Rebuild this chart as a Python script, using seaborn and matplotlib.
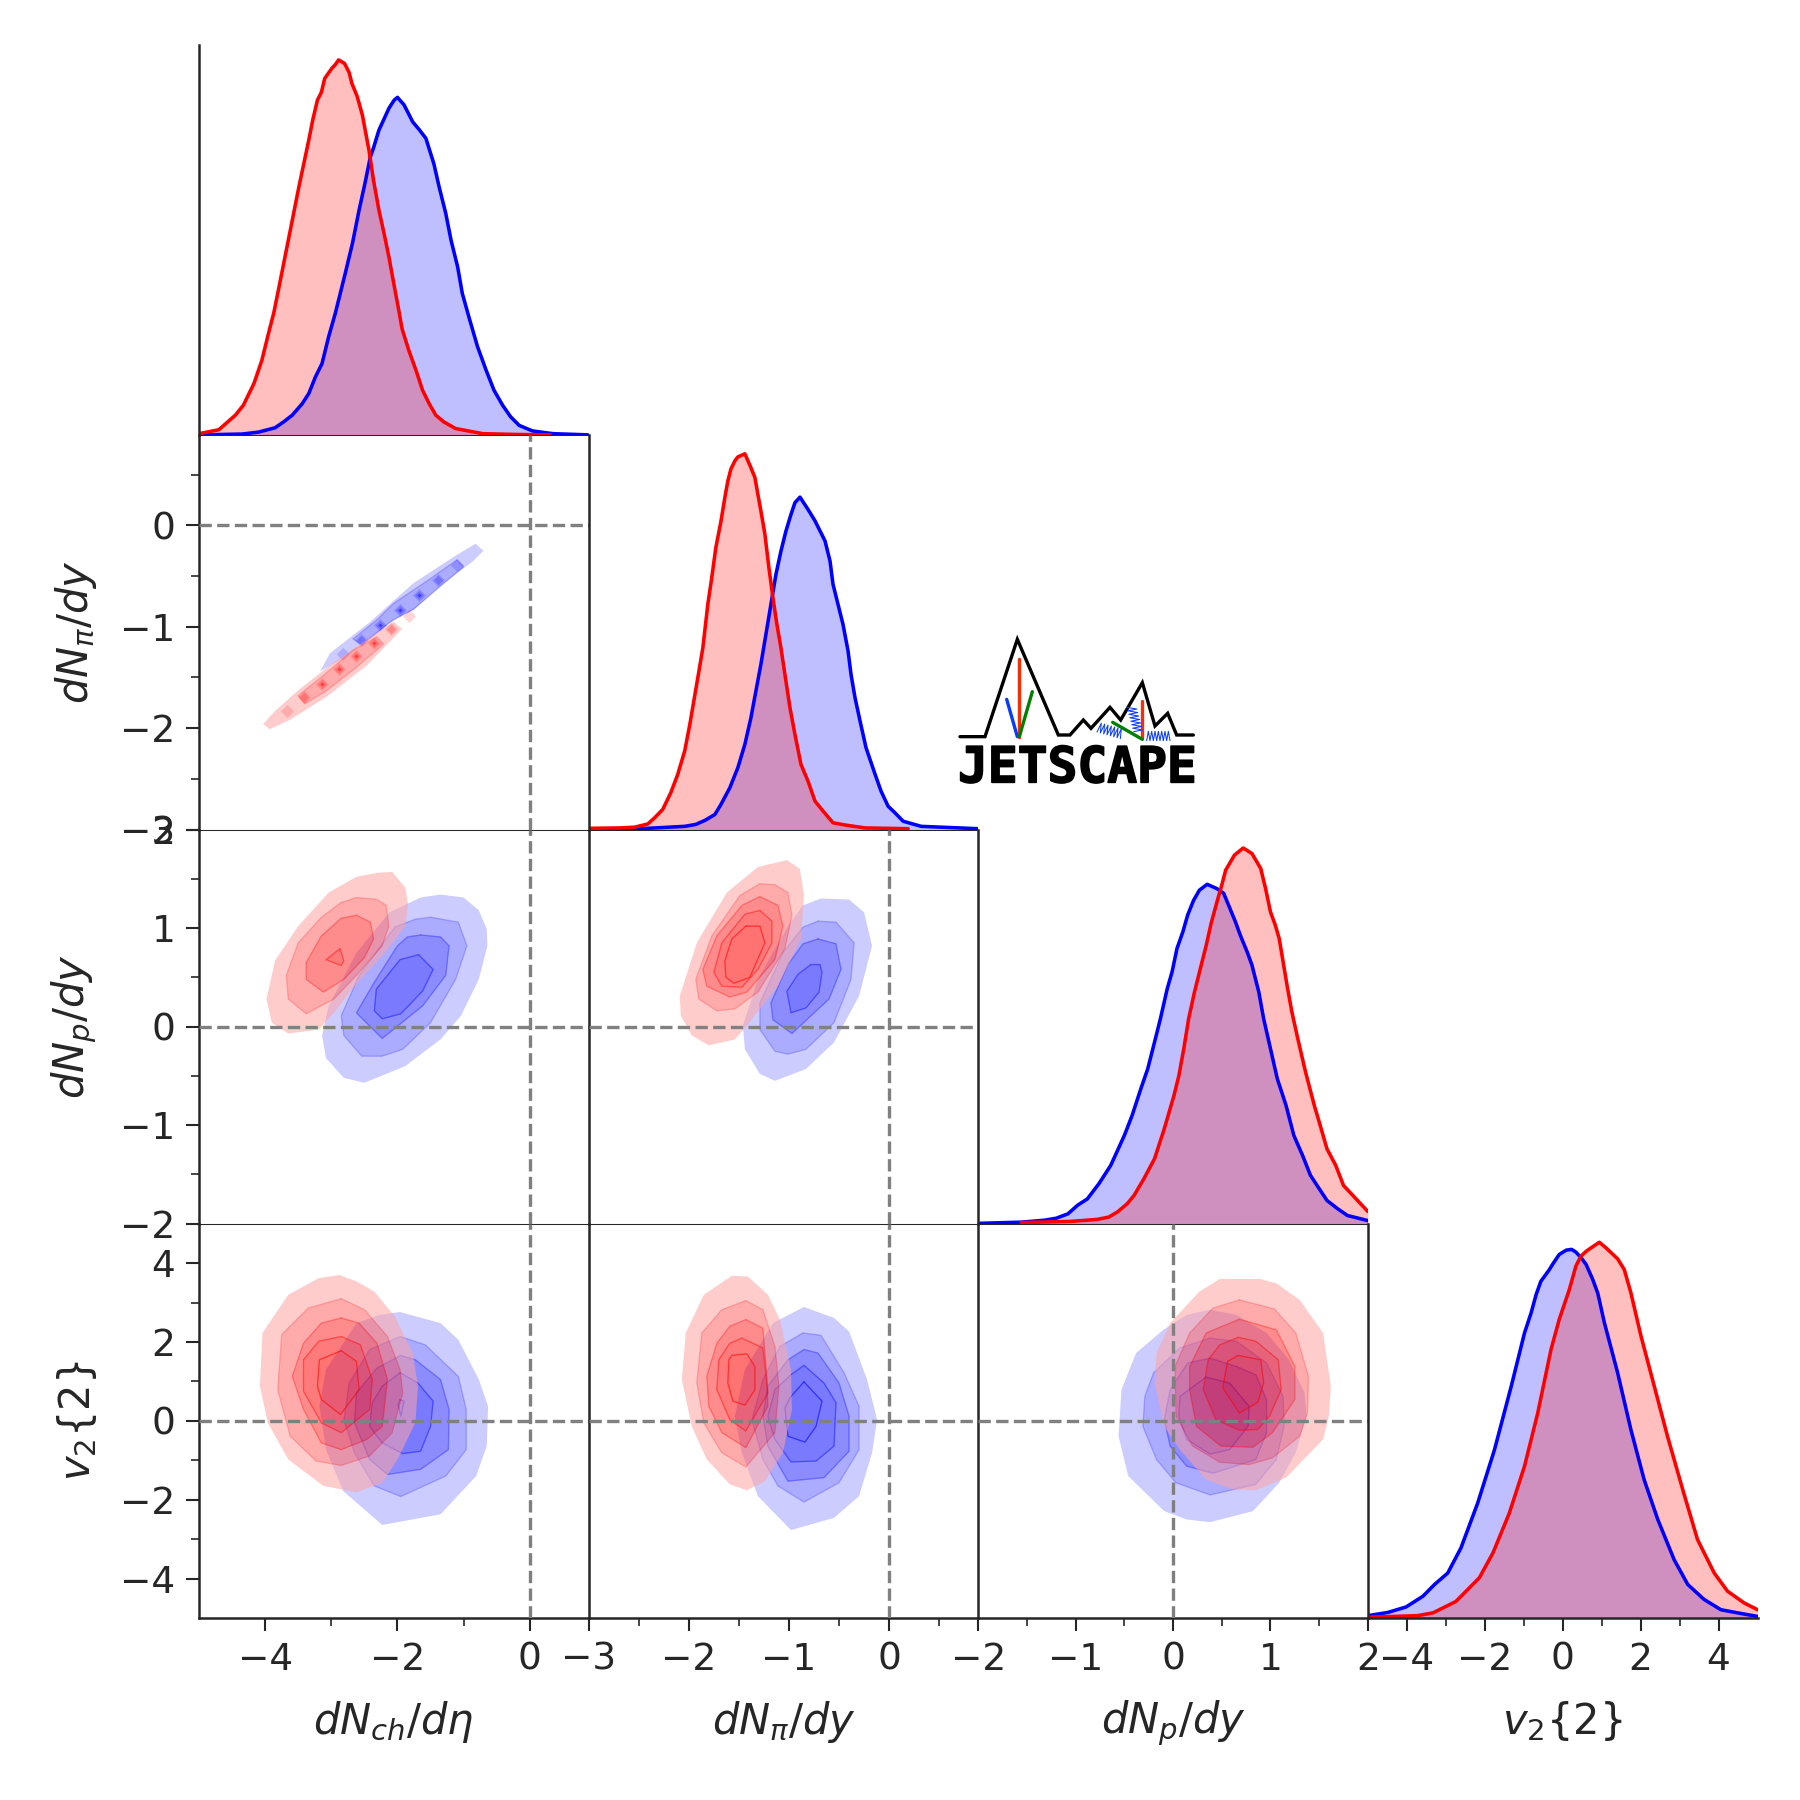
import numpy as np
import pandas as pd
import matplotlib
matplotlib.use('Agg')
import matplotlib.pyplot as plt
import matplotlib.patheffects as pe
from matplotlib.patches import PathPatch
from matplotlib.path import Path
import seaborn as sns

# labels, ranges and ticks for the four observables
labels = [r'$dN_{ch}/d\eta$', r'$dN_{\pi}/dy$', r'$dN_{p}/dy$', r'$v_{2}\{2\}$']
limits = [(-5, 0.89), (-3, 0.89), (-2, 2), (-5, 5)]
major_ticks = [[-4, -2, 0], [-3, -2, -1, 0], [-2, -1, 0, 1, 2], [-4, -2, 0, 2, 4]]
minor_ticks = [[-3, -1], [-2.5, -1.5, -0.5, 0.5], [-1.5, -0.5, 0.5, 1.5], [-3, -1, 1, 3]]

# 1D marginals (height as a fraction of the panel)
ch_red_x = [-5, -4.70, -4.45, -4.33, -4.17, -4.05, -3.95, -3.87, -3.80, -3.64, -3.49, -3.34, -3.28, -3.21, -3.15, -3.10, -2.99, -2.94, -2.89, -2.80, -2.73, -2.69, -2.61, -2.53, -2.43, -2.36, -2.28, -2.20, -2.13, -2.05, -1.98, -1.93, -1.83, -1.72, -1.62, -1.52, -1.42, -1.30, -1.12, -0.71, -0.21, 0.30]
ch_red_y = [0.004, 0.014, 0.051, 0.076, 0.131, 0.19, 0.258, 0.31, 0.368, 0.503, 0.63, 0.749, 0.80, 0.85, 0.87, 0.905, 0.931, 0.94, 0.952, 0.943, 0.92, 0.893, 0.86, 0.812, 0.723, 0.645, 0.571, 0.51, 0.453, 0.38, 0.317, 0.27, 0.216, 0.165, 0.114, 0.08, 0.051, 0.034, 0.017, 0.004, 0.002, 0.001]
ch_blue_x = [-5, -4.35, -4.10, -3.85, -3.72, -3.59, -3.44, -3.34, -3.24, -3.14, -3.04, -2.94, -2.79, -2.68, -2.58, -2.49, -2.41, -2.36, -2.28, -2.13, -2.05, -2.00, -1.90, -1.77, -1.67, -1.57, -1.45, -1.37, -1.27, -1.19, -1.09, -1.02, -0.92, -0.79, -0.66, -0.54, -0.41, -0.29, -0.16, 0.04, 0.35, 0.88]
ch_blue_y = [0.001, 0.003, 0.008, 0.019, 0.034, 0.051, 0.08, 0.106, 0.148, 0.182, 0.25, 0.309, 0.41, 0.487, 0.571, 0.64, 0.706, 0.73, 0.774, 0.829, 0.85, 0.857, 0.838, 0.795, 0.775, 0.753, 0.689, 0.63, 0.563, 0.495, 0.427, 0.36, 0.30, 0.225, 0.165, 0.114, 0.076, 0.047, 0.025, 0.011, 0.004, 0.001]

pi_red_x = [-3, -2.68, -2.54, -2.41, -2.34, -2.26, -2.18, -2.11, -2.04, -1.99, -1.91, -1.86, -1.81, -1.77, -1.73, -1.68, -1.64, -1.61, -1.58, -1.54, -1.51, -1.44, -1.38, -1.34, -1.31, -1.28, -1.24, -1.20, -1.16, -1.12, -1.08, -1.04, -0.99, -0.94, -0.88, -0.81, -0.74, -0.66, -0.56, -0.43, -0.24, 0.19]
pi_red_y = [0.003, 0.004, 0.006, 0.014, 0.03, 0.051, 0.093, 0.14, 0.2, 0.266, 0.385, 0.46, 0.571, 0.64, 0.715, 0.78, 0.842, 0.884, 0.914, 0.935, 0.945, 0.953, 0.918, 0.893, 0.85, 0.808, 0.749, 0.664, 0.588, 0.52, 0.461, 0.393, 0.309, 0.241, 0.165, 0.123, 0.072, 0.047, 0.017, 0.011, 0.004, 0.002]
pi_blue_x = [-3, -2.41, -2.04, -1.93, -1.84, -1.74, -1.68, -1.59, -1.51, -1.44, -1.38, -1.33, -1.28, -1.23, -1.18, -1.13, -1.08, -1.03, -0.98, -0.94, -0.89, -0.81, -0.74, -0.64, -0.59, -0.56, -0.51, -0.46, -0.41, -0.38, -0.34, -0.29, -0.23, -0.14, -0.08, -0.01, 0.06, 0.14, 0.32, 0.89]
pi_blue_y = [0.001, 0.003, 0.008, 0.013, 0.023, 0.038, 0.063, 0.106, 0.157, 0.216, 0.283, 0.351, 0.419, 0.495, 0.571, 0.647, 0.706, 0.757, 0.799, 0.829, 0.843, 0.812, 0.783, 0.732, 0.681, 0.622, 0.571, 0.52, 0.453, 0.393, 0.334, 0.275, 0.207, 0.14, 0.097, 0.059, 0.042, 0.021, 0.008, 0.002]

p_blue_x = [-2, -1.56, -1.32, -1.20, -1.08, -0.98, -0.88, -0.76, -0.64, -0.50, -0.42, -0.33, -0.26, -0.19, -0.13, -0.06, -0.01, 0.04, 0.10, 0.15, 0.21, 0.27, 0.35, 0.45, 0.52, 0.57, 0.64, 0.69, 0.76, 0.81, 0.88, 0.93, 1.0, 1.07, 1.16, 1.24, 1.33, 1.41, 1.50, 1.58, 1.69, 1.79, 2]
p_blue_y = [0.001, 0.004, 0.009, 0.014, 0.025, 0.047, 0.063, 0.102, 0.148, 0.224, 0.275, 0.343, 0.393, 0.461, 0.52, 0.596, 0.639, 0.698, 0.74, 0.783, 0.82, 0.846, 0.861, 0.85, 0.838, 0.808, 0.766, 0.732, 0.69, 0.656, 0.588, 0.52, 0.444, 0.368, 0.3, 0.224, 0.173, 0.123, 0.089, 0.059, 0.038, 0.021, 0.008]
p_red_x = [-1.56, -1.05, -0.78, -0.66, -0.57, -0.47, -0.40, -0.30, -0.19, -0.09, 0.01, 0.06, 0.11, 0.16, 0.22, 0.28, 0.34, 0.39, 0.45, 0.50, 0.54, 0.63, 0.72, 0.81, 0.90, 0.95, 1.0, 1.05, 1.09, 1.13, 1.17, 1.22, 1.28, 1.36, 1.45, 1.51, 1.58, 1.67, 1.75, 1.86, 2]
p_red_y = [0.003, 0.006, 0.011, 0.017, 0.03, 0.051, 0.072, 0.114, 0.165, 0.241, 0.326, 0.376, 0.444, 0.52, 0.588, 0.647, 0.706, 0.761, 0.816, 0.859, 0.897, 0.935, 0.953, 0.939, 0.901, 0.85, 0.791, 0.757, 0.723, 0.664, 0.605, 0.537, 0.47, 0.385, 0.3, 0.25, 0.19, 0.148, 0.097, 0.068, 0.031]

v2_blue_x = [-5, -4.49, -4.02, -3.59, -3.29, -2.95, -2.61, -2.18, -1.75, -1.32, -0.98, -0.81, -0.68, -0.56, -0.34, -0.26, -0.09, 0.09, 0.23, 0.34, 0.47, 0.60, 0.77, 0.90, 1.07, 1.41, 1.75, 2.09, 2.44, 2.86, 3.21, 3.63, 4.06, 4.49, 5]
v2_blue_y = [0.006, 0.014, 0.028, 0.055, 0.085, 0.114, 0.178, 0.292, 0.427, 0.588, 0.723, 0.774, 0.821, 0.854, 0.884, 0.897, 0.922, 0.933, 0.935, 0.928, 0.914, 0.897, 0.859, 0.824, 0.749, 0.622, 0.478, 0.351, 0.25, 0.148, 0.085, 0.047, 0.021, 0.013, 0.004]
v2_red_x = [-5, -3.72, -3.33, -2.74, -2.14, -1.79, -1.37, -0.98, -0.64, -0.30, -0.09, 0.17, 0.34, 0.47, 0.60, 0.73, 0.94, 1.11, 1.41, 1.58, 1.75, 2.01, 2.35, 2.69, 3.08, 3.46, 3.89, 4.23, 4.66, 5]
v2_red_y = [0.002, 0.006, 0.013, 0.042, 0.102, 0.165, 0.266, 0.385, 0.520, 0.681, 0.757, 0.833, 0.893, 0.918, 0.93, 0.939, 0.953, 0.939, 0.911, 0.884, 0.825, 0.715, 0.588, 0.461, 0.326, 0.199, 0.114, 0.068, 0.038, 0.021]

# credible regions, outermost level first: (x, y) vertices
pi_ch_red = [
    [(-4.03, -1.96), (-3.93, -2.01), (-3.63, -1.92), (-3.07, -1.69), (-2.46, -1.38), (-1.93, -1.02), (-2.06, -0.95), (-2.36, -1.08), (-3.02, -1.38), (-3.47, -1.61), (-3.85, -1.83)],
    [(-3.50, -1.68), (-3.40, -1.76), (-3.07, -1.63), (-2.62, -1.40), (-2.21, -1.17), (-2.31, -1.10), (-2.67, -1.23), (-3.12, -1.48)],
]
pi_ch_blue = [
    [(-3.17, -1.44), (-2.82, -1.31), (-2.26, -1.02), (-1.76, -0.82), (-1.10, -0.47), (-0.87, -0.36), (-0.70, -0.25), (-0.82, -0.18), (-1.15, -0.31), (-1.76, -0.57), (-2.41, -0.95), (-3.02, -1.26)],
    [(-2.67, -1.12), (-2.54, -1.18), (-2.06, -0.93), (-1.76, -0.83), (-1.30, -0.57), (-1.00, -0.41), (-1.10, -0.34), (-1.56, -0.55), (-2.06, -0.77), (-2.31, -0.93)],
]
spots_red_x = [-3.67, -3.41, -3.14, -2.88, -2.62, -2.35, -2.09, -1.82]
spots_red_y = [-1.83, -1.69, -1.56, -1.42, -1.29, -1.16, -1.02, -0.89]
spots_blue_x = [-2.83, -2.55, -2.26, -1.96, -1.68, -1.39, -1.10]
spots_blue_y = [-1.27, -1.13, -0.98, -0.83, -0.69, -0.54, -0.39]

p_ch_red = [
    [(-2.08, 1.57), (-1.88, 1.41), (-1.84, 1.24), (-1.88, 1.02), (-2.19, 0.75), (-2.65, 0.41), (-2.96, 0.14), (-3.19, -0.03), (-3.65, -0.07), (-3.90, 0.04), (-3.98, 0.28), (-3.85, 0.67), (-3.50, 1.02), (-3.04, 1.36), (-2.62, 1.52), (-2.31, 1.56)],
    [(-2.62, 1.31), (-2.31, 1.29), (-2.17, 1.23), (-2.13, 1.02), (-2.23, 0.82), (-2.62, 0.52), (-2.96, 0.28), (-3.38, 0.13), (-3.65, 0.28), (-3.68, 0.52), (-3.50, 0.85), (-3.15, 1.11), (-2.85, 1.26)],
    [(-2.62, 1.13), (-2.41, 1.06), (-2.36, 0.89), (-2.50, 0.70), (-2.81, 0.48), (-3.12, 0.35), (-3.38, 0.48), (-3.38, 0.65), (-3.15, 0.92), (-2.85, 1.10)],
    [(-2.87, 0.79), (-2.81, 0.67), (-2.85, 0.62), (-3.08, 0.68)],
]
p_ch_blue = [
    [(-1.35, 1.34), (-1.00, 1.31), (-0.77, 1.18), (-0.65, 0.99), (-0.64, 0.82), (-0.77, 0.48), (-1.04, 0.11), (-1.35, -0.13), (-1.88, -0.40), (-2.50, -0.57), (-2.81, -0.52), (-3.08, -0.32), (-3.14, -0.09), (-3.04, 0.21), (-2.62, 0.75), (-2.12, 1.16), (-1.65, 1.31)],
    [(-1.50, 1.11), (-1.08, 1.06), (-0.95, 0.82), (-1.12, 0.48), (-1.50, 0.04), (-1.92, -0.23), (-2.23, -0.30), (-2.54, -0.30), (-2.81, -0.09), (-2.85, 0.11), (-2.58, 0.52), (-2.04, 1.01), (-1.73, 1.09)],
    [(-1.65, 0.93), (-1.35, 0.91), (-1.22, 0.82), (-1.27, 0.52), (-1.62, 0.21), (-2.23, -0.12), (-2.62, 0.14), (-2.35, 0.45), (-2.00, 0.82), (-1.85, 0.91)],
    [(-1.68, 0.73), (-1.46, 0.58), (-1.62, 0.36), (-1.95, 0.13), (-2.23, 0.08), (-2.35, 0.16), (-2.32, 0.38), (-1.96, 0.68)],
]

p_pi_red = [
    [(-1.02, 1.69), (-0.89, 1.60), (-0.85, 1.33), (-0.88, 0.89), (-1.11, 0.41), (-1.42, 0.01), (-1.54, -0.13), (-1.80, -0.19), (-1.97, -0.09), (-2.08, 0.11), (-2.09, 0.31), (-1.92, 0.85), (-1.62, 1.36), (-1.31, 1.62)],
    [(-1.29, 1.45), (-1.14, 1.44), (-1.01, 1.36), (-0.97, 1.13), (-1.04, 0.79), (-1.31, 0.35), (-1.54, 0.18), (-1.72, 0.16), (-1.90, 0.28), (-1.93, 0.48), (-1.77, 0.92), (-1.49, 1.33)],
    [(-1.29, 1.32), (-1.11, 1.23), (-1.06, 1.02), (-1.14, 0.68), (-1.42, 0.35), (-1.59, 0.30), (-1.82, 0.41), (-1.86, 0.58), (-1.72, 0.92), (-1.47, 1.23)],
    [(-1.29, 1.18), (-1.17, 1.07), (-1.17, 0.85), (-1.31, 0.58), (-1.47, 0.40), (-1.67, 0.41), (-1.75, 0.55), (-1.67, 0.85), (-1.44, 1.14)],
    [(-1.43, 1.02), (-1.29, 1.02), (-1.24, 0.85), (-1.39, 0.50), (-1.55, 0.44), (-1.63, 0.50), (-1.64, 0.67), (-1.57, 0.89)],
]
p_pi_blue = [
    [(-0.68, 1.30), (-0.40, 1.29), (-0.25, 1.16), (-0.17, 0.82), (-0.30, 0.31), (-0.55, -0.16), (-0.83, -0.43), (-1.14, -0.55), (-1.29, -0.48), (-1.44, -0.23), (-1.46, 0.01), (-1.31, 0.48), (-1.01, 1.02), (-0.86, 1.23)],
    [(-0.71, 1.07), (-0.53, 1.06), (-0.35, 0.85), (-0.38, 0.48), (-0.55, 0.04), (-0.83, -0.23), (-1.01, -0.28), (-1.14, -0.25), (-1.29, -0.03), (-1.29, 0.24), (-1.06, 0.75), (-0.86, 1.01)],
    [(-0.71, 0.89), (-0.53, 0.84), (-0.48, 0.58), (-0.60, 0.28), (-0.97, -0.07), (-1.16, 0.07), (-1.18, 0.24), (-1.01, 0.63), (-0.86, 0.84)],
    [(-0.78, 0.63), (-0.69, 0.63), (-0.67, 0.55), (-0.70, 0.35), (-0.83, 0.19), (-0.98, 0.14), (-1.02, 0.36), (-0.91, 0.53)],
]

v2_ch_red = [
    [(-2.88, 3.70), (-2.62, 3.54), (-2.35, 3.28), (-2.04, 2.65), (-1.77, 1.72), (-1.69, 0.88), (-1.73, -0.05), (-2.00, -0.98), (-2.23, -1.57), (-2.62, -1.81), (-3.12, -1.65), (-3.65, -0.98), (-3.96, -0.05), (-4.08, 0.88), (-4.04, 2.23), (-3.65, 3.20), (-3.19, 3.62)],
    [(-2.85, 3.10), (-2.50, 2.82), (-2.15, 2.14), (-1.96, 1.30), (-1.92, 0.71), (-2.08, -0.30), (-2.42, -0.89), (-2.85, -1.13), (-3.23, -1.02), (-3.62, -0.39), (-3.81, 0.79), (-3.75, 2.19), (-3.35, 2.86)],
    [(-2.85, 2.61), (-2.58, 2.48), (-2.31, 1.97), (-2.15, 1.05), (-2.23, -0.14), (-2.46, -0.47), (-2.85, -0.73), (-3.15, -0.56), (-3.42, 0.29), (-3.59, 1.13), (-3.42, 1.97), (-3.15, 2.48)],
    [(-2.85, 2.14), (-2.56, 1.93), (-2.38, 1.05), (-2.42, 0.29), (-2.85, -0.30), (-3.15, -0.05), (-3.42, 0.75), (-3.42, 1.55), (-3.19, 2.02)],
    [(-2.85, 1.78), (-2.62, 1.51), (-2.58, 0.79), (-2.86, 0.16), (-3.15, 0.54), (-3.21, 0.88), (-3.18, 1.55)],
]
v2_ch_blue = [
    [(-1.96, 2.76), (-1.35, 2.48), (-1.08, 2.06), (-0.77, 1.05), (-0.63, 0.37), (-0.65, -0.64), (-0.81, -1.40), (-1.35, -2.37), (-2.23, -2.64), (-2.82, -1.78), (-3.08, -0.73), (-3.18, 0.37), (-3.08, 1.30), (-2.62, 2.48), (-2.27, 2.69)],
    [(-1.96, 2.14), (-1.58, 1.93), (-1.08, 1.13), (-0.96, 0.29), (-0.96, -0.73), (-1.27, -1.40), (-1.95, -1.92), (-2.35, -1.65), (-2.65, -0.81), (-2.81, 0.03), (-2.73, 0.96), (-2.42, 1.81)],
    [(-1.95, 1.66), (-1.73, 1.55), (-1.35, 1.05), (-1.22, 0.29), (-1.23, -0.73), (-1.65, -1.23), (-2.15, -1.36), (-2.42, -0.98), (-2.65, -0.05), (-2.62, 0.71), (-2.31, 1.34)],
    [(-1.96, 1.22), (-1.69, 0.96), (-1.46, 0.50), (-1.50, -0.14), (-1.65, -0.77), (-1.92, -0.83), (-2.23, -0.56), (-2.42, -0.14), (-2.38, 0.46), (-2.23, 0.88)],
    [(-1.96, 0.54), (-1.90, 0.50), (-1.95, 0.12), (-1.99, 0.41)],
]

v2_pi_red = [
    [(-1.57, 3.68), (-1.41, 3.66), (-1.21, 3.20), (-1.09, 2.57), (-0.98, 1.30), (-0.97, 0.29), (-1.06, -0.81), (-1.24, -1.53), (-1.42, -1.76), (-1.59, -1.61), (-1.82, -0.98), (-1.97, -0.14), (-2.07, 1.05), (-2.03, 2.23), (-1.85, 3.20)],
    [(-1.43, 3.05), (-1.26, 2.82), (-1.14, 1.89), (-1.10, 0.88), (-1.14, -0.30), (-1.43, -1.17), (-1.67, -0.81), (-1.85, -0.05), (-1.92, 0.96), (-1.87, 2.23), (-1.67, 2.82)],
    [(-1.43, 2.57), (-1.26, 2.35), (-1.22, 1.13), (-1.21, 0.37), (-1.43, -0.68), (-1.67, -0.30), (-1.80, 0.37), (-1.82, 1.13), (-1.72, 1.97), (-1.59, 2.40)],
    [(-1.47, 2.10), (-1.26, 1.85), (-1.21, 0.71), (-1.43, -0.26), (-1.59, 0.03), (-1.72, 0.79), (-1.70, 1.55), (-1.59, 1.97)],
    [(-1.57, 1.66), (-1.42, 1.70), (-1.34, 1.38), (-1.34, 0.79), (-1.44, 0.40), (-1.56, 0.50), (-1.61, 0.96), (-1.60, 1.55)],
]
v2_pi_blue = [
    [(-0.85, 2.89), (-0.55, 2.61), (-0.40, 2.27), (-0.22, 1.05), (-0.12, 0.03), (-0.17, -0.81), (-0.30, -1.91), (-0.55, -2.46), (-0.98, -2.77), (-1.31, -1.91), (-1.47, -0.81), (-1.54, 0.12), (-1.44, 1.30), (-1.16, 2.48)],
    [(-0.86, 2.23), (-0.68, 2.17), (-0.45, 1.22), (-0.30, 0.37), (-0.30, -0.73), (-0.50, -1.57), (-0.85, -2.06), (-1.11, -1.65), (-1.26, -0.98), (-1.37, 0.03), (-1.26, 1.05), (-1.09, 1.89)],
    [(-0.85, 1.81), (-0.71, 1.72), (-0.50, 0.96), (-0.40, 0.12), (-0.40, -0.77), (-0.65, -1.44), (-1.01, -1.53), (-1.21, -0.64), (-1.26, 0.12), (-1.21, 0.88), (-1.01, 1.55)],
    [(-0.85, 1.41), (-0.65, 0.96), (-0.53, 0.46), (-0.55, -0.64), (-0.73, -1.02), (-0.98, -1.04), (-1.14, -0.47), (-1.21, 0.12), (-1.14, 0.79), (-0.98, 1.17)],
    [(-0.85, 0.99), (-0.67, 0.50), (-0.73, -0.14), (-0.84, -0.54), (-1.01, -0.39), (-1.04, 0.33), (-0.98, 0.62)],
]

v2_p_red = [
    [(0.48, 3.60), (0.89, 3.60), (1.06, 3.49), (1.30, 3.07), (1.54, 2.23), (1.62, 0.88), (1.60, 0.12), (1.54, -0.47), (1.16, -1.44), (0.85, -1.76), (0.61, -1.74), (0.34, -1.49), (0.07, -0.73), (-0.09, -0.14), (-0.19, 0.96), (-0.17, 1.72), (-0.03, 2.48), (0.27, 3.28)],
    [(0.68, 3.07), (1.04, 2.84), (1.26, 2.23), (1.39, 1.13), (1.38, 0.20), (1.30, -0.39), (1.02, -0.94), (0.78, -1.11), (0.48, -1.05), (0.20, -0.64), (0.03, 0.12), (0.02, 1.38), (0.17, 2.23), (0.41, 2.86)],
    [(0.68, 2.58), (1.06, 2.31), (1.25, 1.38), (1.25, 0.54), (1.02, -0.30), (0.82, -0.67), (0.49, -0.64), (0.24, -0.14), (0.17, 0.79), (0.17, 1.38), (0.34, 2.23)],
    [(0.67, 2.12), (0.85, 2.02), (1.08, 1.55), (1.11, 0.79), (0.99, 0.12), (0.87, -0.22), (0.68, -0.24), (0.44, 0.03), (0.31, 0.79), (0.36, 1.55), (0.48, 1.93)],
    [(0.67, 1.66), (0.90, 1.55), (0.93, 0.96), (0.87, 0.47), (0.68, 0.20), (0.51, 0.84), (0.56, 1.51)],
]
v2_p_blue = [
    [(0.38, 2.82), (0.65, 2.69), (0.96, 2.23), (1.19, 1.55), (1.35, 0.71), (1.37, 0.12), (1.26, -0.81), (1.09, -1.57), (0.82, -2.29), (0.38, -2.57), (0.14, -2.50), (-0.09, -2.29), (-0.46, -1.40), (-0.56, -0.39), (-0.53, 0.79), (-0.38, 1.72), (-0.10, 2.31), (0.14, 2.69)],
    [(0.38, 2.10), (0.65, 2.02), (0.96, 1.47), (1.13, 0.62), (1.14, -0.14), (1.06, -0.98), (0.85, -1.61), (0.38, -1.88), (0.03, -1.57), (-0.17, -0.98), (-0.31, -0.14), (-0.29, 0.62), (-0.20, 1.22), (0.07, 1.85)],
    [(0.38, 1.59), (0.65, 1.38), (0.85, 1.17), (0.96, 0.54), (0.96, -0.30), (0.85, -0.98), (0.41, -1.33), (0.14, -1.15), (-0.03, -0.64), (-0.09, 0.03), (-0.03, 0.79), (0.15, 1.47)],
    [(0.34, 1.11), (0.58, 0.96), (0.78, 0.37), (0.77, -0.14), (0.58, -0.73), (0.38, -0.84), (0.14, -0.47), (0.06, 0.12), (0.07, 0.62)],
]

marginals = [
    (ch_blue_x, ch_blue_y, ch_red_x, ch_red_y),
    (pi_blue_x, pi_blue_y, pi_red_x, pi_red_y),
    (p_blue_x, p_blue_y, p_red_x, p_red_y),
    (v2_blue_x, v2_blue_y, v2_red_x, v2_red_y),
]
regions = {
    (1, 0): (pi_ch_blue, pi_ch_red),
    (2, 0): (p_ch_blue, p_ch_red),
    (2, 1): (p_pi_blue, p_pi_red),
    (3, 0): (v2_ch_blue, v2_ch_red),
    (3, 1): (v2_pi_blue, v2_pi_red),
    (3, 2): (v2_p_blue, v2_p_red),
}

# white-to-full colour ramp of the bands, every band has the same opacity
band_mix = [0.64, 0.40, 0.18, 0.05, 0.0]

sns.set_theme(style='ticks', font='DejaVu Sans')
plt.rcParams['mathtext.default'] = 'it'


def draw_marginal(ax, x, y, color):
    ax.fill_between(x, 0, y, color=color, alpha=0.25, lw=0)
    sns.lineplot(x=x, y=y, ax=ax, color=color, lw=0.85, estimator=None, sort=False)


def ring(points, clockwise):
    pts = np.array(points + points[:1])
    area = np.sum(pts[:-1, 0] * pts[1:, 1] - pts[1:, 0] * pts[:-1, 1])
    if (area < 0) != clockwise:
        pts = pts[::-1]
    return pts


def draw_region(ax, levels, color, z):
    # bands do not pile up: each level is cut out of the one around it
    for k, level in enumerate(levels):
        verts = [ring(level, True)]
        if k + 1 < len(levels):
            verts.append(ring(levels[k + 1], False))
        codes = []
        for v in verts:
            codes += [Path.MOVETO] + [Path.LINETO] * (len(v) - 2) + [Path.CLOSEPOLY]
        c = band_mix[k]
        rgb = (1, c, c) if color == 'red' else (c, c, 1)
        ax.add_patch(PathPatch(Path(np.vstack(verts), codes), facecolor=rgb, alpha=0.55, lw=0, zorder=z))
    for k, level in enumerate(levels):
        if k > 0:
            df = pd.DataFrame(level + level[:1], columns=['x', 'y'])
            sns.lineplot(data=df, x='x', y='y', ax=ax, color=color, lw=0.3, zorder=z + 0.1,
                         alpha=0.1 + 0.13 * k, estimator=None, sort=False)


def draw_spots(ax, x, y, color, z):
    sns.scatterplot(x=x, y=y, ax=ax, color=color, marker='D', s=5, alpha=0.16, linewidth=0, zorder=z)
    sns.scatterplot(x=x[1:-1], y=y[1:-1], ax=ax, color=color, marker='D', s=2.5, alpha=0.2, linewidth=0, zorder=z)
    sns.scatterplot(x=x[2:-2], y=y[2:-2], ax=ax, color=color, marker='D', s=0.5, alpha=0.45, linewidth=0, zorder=z)


fig = plt.figure(figsize=(6, 6), dpi=300)
gs = fig.add_gridspec(4, 4, left=199 / 1800, right=1757.5 / 1800, top=1 - 41 / 1800,
                      bottom=1 - 1618 / 1800, wspace=0, hspace=0)

for row in range(4):
    for col in range(row + 1):
        ax = fig.add_subplot(gs[row, col])
        ax.set_xlim(limits[col])
        if row == col:
            xb, yb, xr, yr = marginals[col]
            draw_marginal(ax, xb, yb, 'blue')
            draw_marginal(ax, xr, yr, 'red')
            ax.set_ylim(0, 1)
            ax.set_yticks([])
        else:
            blue, red = regions[(row, col)]
            draw_region(ax, blue, 'blue', 1.0)
            if (row, col) == (1, 0):
                draw_spots(ax, spots_blue_x, spots_blue_y, 'blue', 1.2)
            draw_region(ax, red, 'red', 1.4)
            if (row, col) == (1, 0):
                draw_spots(ax, spots_red_x, spots_red_y, 'red', 1.6)
            ax.set_ylim(limits[row])
            ax.axhline(0, color='gray', ls='--', lw=0.8, zorder=5)
            ax.axvline(0, color='gray', ls='--', lw=0.8, zorder=5)

        ax.set_xlabel('')
        ax.set_ylabel('')
        sns.despine(ax=ax)
        ax.spines['left'].set_linewidth(0.6)
        ax.spines['bottom'].set_linewidth(0.6 if row == 3 else 0.25)
        ax.patch.set_alpha(0)
        if row == 0:
            ax.spines['left'].set_bounds(0, 0.99)

        if col == 0 and row > 0:
            ax.set_yticks(major_ticks[row])
            ax.set_yticks(minor_ticks[row], minor=True)
            ax.set_ylabel(labels[row], fontsize=10, labelpad=5)
        else:
            ax.set_yticks([])
        if row == 3:
            ax.set_xticks(major_ticks[col])
            ax.set_xticks(minor_ticks[col], minor=True)
            ax.set_xlabel(labels[col], fontsize=10, labelpad=5)
        else:
            ax.set_xticks([])
        ax.tick_params(which='major', length=3.2, width=0.5, labelsize=9, pad=2.5)
        ax.tick_params(which='minor', length=2, width=0.4)

# JETSCAPE logo, drawn on its own little axes in the gap of the corner
logo = fig.add_axes([930 / 1800, 1 - 820 / 1800, 300 / 1800, 220 / 1800])
logo.set_xlim(0, 900)
logo.set_ylim(660, 0)
logo.axis('off')
ridge_x = [90, 165, 262, 385, 420, 460, 483, 540, 572, 637, 675, 713, 740, 790]
ridge_y = [410, 410, 118, 405, 405, 360, 385, 322, 360, 248, 378, 340, 405, 405]
logo.plot(ridge_x, ridge_y, color='black', lw=0.8, solid_joinstyle='miter')
for x0, y0, x1, y1, c in [(266, 178, 266, 410, '#ff2a00'), (230, 298, 262, 410, '#0a3cff'),
                          (307, 275, 268, 410, 'green'), (637, 303, 637, 415, '#ff2a00'),
                          (548, 367, 637, 418, 'green')]:
    logo.plot([x0, x1], [y0, y1], color=c, lw=0.8)
for x0, y0, x1, y1, nx, ny in [(505, 382, 575, 402, 4, -14), (605, 322, 625, 395, 14, 0),
                               (650, 408, 720, 408, 0, -14)]:
    coil_x, coil_y = [], []
    for t in range(15):
        f = t / 14
        side = 1 if t % 2 else -1
        coil_x.append(x0 + (x1 - x0) * f + side * nx)
        coil_y.append(y0 + (y1 - y0) * f + side * ny)
    logo.plot(coil_x, coil_y, color='#0a3cff', lw=0.25)
logo.text(441, 505, 'JETSCAPE', family='DejaVu Sans Mono', weight='bold', fontsize=11.9,
          ha='center', va='center', color='black',
          path_effects=[pe.withStroke(linewidth=0.4, foreground='black')])

fig.savefig('out.png', dpi=300, facecolor='white')
